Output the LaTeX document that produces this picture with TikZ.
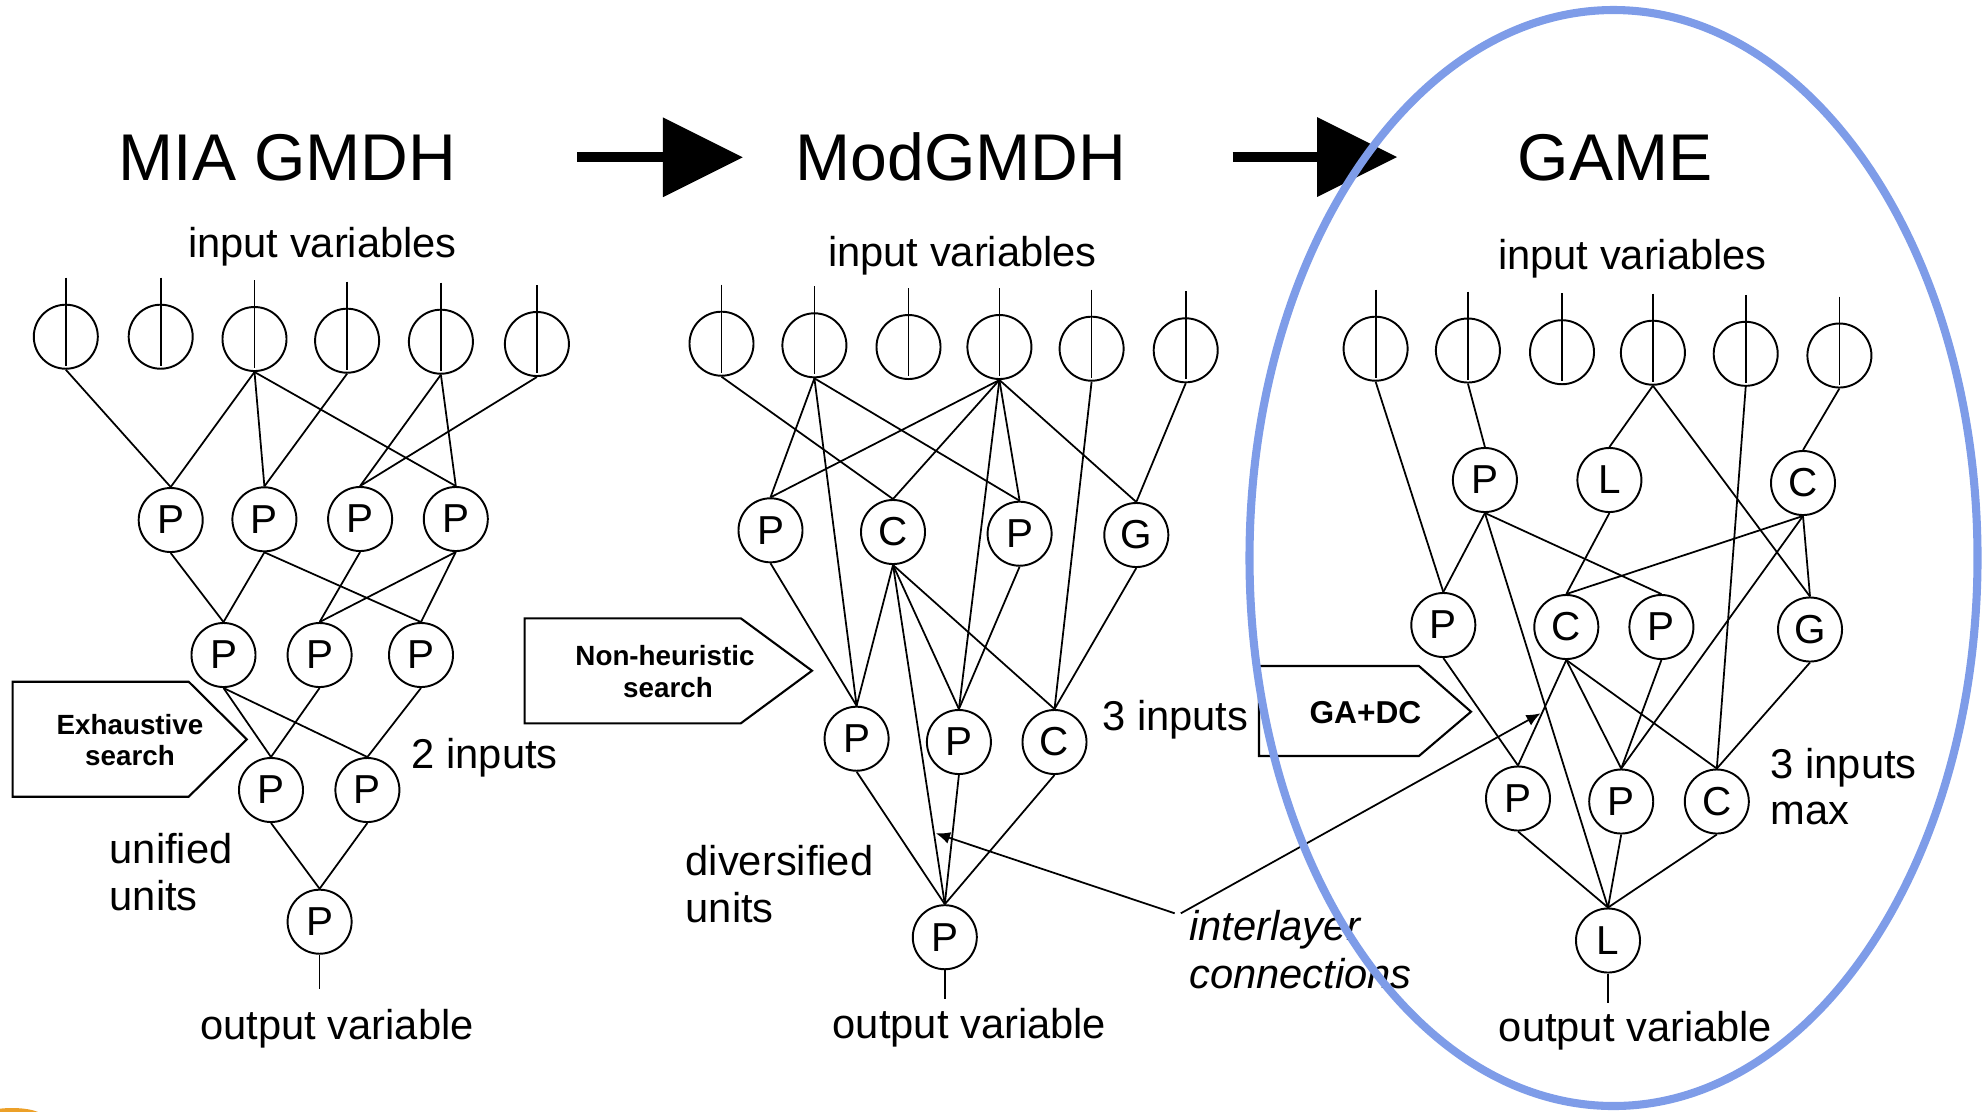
\documentclass[tikz,border=0pt]{standalone}
\usepackage{fontspec}
\setmainfont{Liberation Sans}
\usetikzlibrary{arrows.meta}
\definecolor{hlblue}{RGB}{126,156,232}
\definecolor{blobcol}{RGB}{236,160,40}
\begin{document}
\begin{tikzpicture}[x=0.01cm,y=-0.01cm,
  unit/.style={circle,draw,line width=0.55pt,minimum size=0.64cm,inner sep=0pt,font=\fontsize{11.5}{12}\selectfont},
  inp/.style={circle,draw,line width=0.55pt,minimum size=0.64cm,inner sep=0pt},
  conn/.style={line width=0.5pt},
  lbl/.style={font=\fontsize{11.85}{13}\selectfont,inner sep=0pt,anchor=base west},
  clbl/.style={font=\fontsize{11.85}{13}\selectfont,inner sep=0pt,anchor=base},
  ttl/.style={font=\fontsize{18.8}{20}\selectfont,inner sep=0pt,anchor=base},
  boxtxt/.style={font=\bfseries\fontsize{7.9}{9}\selectfont,inner sep=0pt,anchor=base},
  pent/.style={draw,line width=0.6pt},
  bigarrow/.style={line width=2.85pt,-{Triangle[length=22.7pt,width=22.7pt,line width=0pt]}},
  ilarrow/.style={line width=0.5pt,-{Latex[length=4pt,width=3.4pt]}},
]
\useasboundingbox (0,0) rectangle (1982,1111);

% ---------- titles and big arrows ----------
\node[ttl] (t1) at (287.5,180) {MIA GMDH};
\node[ttl] (t2) at (961,180) {ModGMDH};
\node[ttl] (t3) at (1615,180) {GAME};
\coordinate (ba1s) at (577,157.3);
\coordinate (ba1e) at (742.7,157.3);
\coordinate (ba2s) at (1232.6,157);
\coordinate (ba2e) at (1397,157);
\draw[bigarrow] (ba1s) -- (ba1e);
\draw[bigarrow] (ba2s) -- (ba2e);

\node[clbl] (iv1) at (322.5,257) {input variables};
\node[clbl] (iv2) at (962.5,266) {input variables};
\node[clbl] (iv3) at (1632.5,269) {input variables};

% ---------- left network ----------
\node[inp] (a1) at (65.8,336.7) {};
\node[inp] (a2) at (160.7,336.7) {};
\node[inp] (a3) at (254.5,339) {};
\node[inp] (a4) at (347.1,340.7) {};
\node[inp] (a5) at (440.9,341.7) {};
\node[inp] (a6) at (536.9,344) {};
\node[unit] (ap1) at (170.7,520) {P};
\node[unit] (ap2) at (264.4,519.3) {P};
\node[unit] (ap3) at (360.1,519) {P};
\node[unit] (ap4) at (455.8,519) {P};
\node[unit] (aq1) at (223.5,655) {P};
\node[unit] (aq2) at (319.6,655) {P};
\node[unit] (aq3) at (421,655) {P};
\node[unit] (ar1) at (271,790) {P};
\node[unit] (ar2) at (367.4,790) {P};
\node[unit] (aout) at (319.6,921.7) {P};
\coordinate (aend) at (319.6,989);

\foreach \s/\t in {a1/ap1,a3/ap1,a3/ap2,a4/ap2,a3/ap4,a5/ap3,a5/ap4,a6/ap3,
  ap1/aq1,ap2/aq1,ap2/aq3,ap3/aq2,ap4/aq2,ap4/aq3,
  aq1/ar1,aq1/ar2,aq2/ar1,aq3/ar2,ar1/aout,ar2/aout}
  \draw[conn] (\s.south) -- (\t.north);
\draw[conn] (aout.south) -- (aend);

\node[clbl] (ov1) at (337,1039) {output variable};
\node[lbl] (in2) at (411,768) {2 inputs};
\node[lbl] (uni1) at (109,863) {unified};
\node[lbl] (uni2) at (109,910) {units};

\draw[pent] (12.6,681.7) -- (188.7,681.7) -- (246.8,739.3) -- (188.7,796.7) -- (12.6,796.7) -- cycle;
\node[boxtxt] (ex1) at (130,734) {Exhaustive};
\node[boxtxt] (ex2) at (130,765) {search};

% ---------- middle network ----------
\node[inp] (b1) at (721.5,343.7) {};
\node[inp] (b2) at (814.4,345.3) {};
\node[inp] (b3) at (908.5,347) {};
\node[inp] (b4) at (999.4,347) {};
\node[inp] (b5) at (1091.6,348.7) {};
\node[inp] (b6) at (1185.7,350.3) {};
\node[unit] (bp1) at (770.5,530.3) {P};
\node[unit] (bc) at (893,532) {C};
\node[unit] (bp2) at (1019.6,533.7) {P};
\node[unit] (bg) at (1136.3,535) {G};
\node[unit] (bq1) at (856.6,738.7) {P};
\node[unit] (bq2) at (958.9,742) {P};
\node[unit] (bq3) at (1054.5,742) {C};
\node[unit] (bout) at (944.8,937.2) {P};
\coordinate (bend) at (944.8,999.3);

\foreach \s/\t in {b1/bc,b2/bp1,b2/bq1,b2/bp2,b4/bp1,b4/bc,b4/bq2,b4/bp2,b4/bg,b5/bq3,b6/bg,
  bp1/bq1,bc/bq1,bc/bq2,bc/bq3,bc/bout,bp2/bq2,bg/bq3,
  bq1/bout,bq2/bout,bq3/bout}
  \draw[conn] (\s.south) -- (\t.north);
\draw[conn] (bout.south) -- (bend);

\node[clbl] (ov2) at (969.5,1038.3) {output variable};
\node[lbl] (in3) at (1101.7,730.7) {3 inputs};
\node[lbl] (div1) at (685,875) {diversified};
\node[lbl] (div2) at (685,922.7) {units};

\draw[pent] (524.6,618.3) -- (740.8,618.3) -- (812,670.7) -- (740.8,723.3) -- (524.6,723.3) -- cycle;
\node[boxtxt] (nh1) at (665,665) {Non-heuristic};
\node[boxtxt] (nh2) at (668,697) {search};

% ---------- right network ----------
\node[inp] (c1) at (1375.6,348.7) {};
\node[inp] (c2) at (1467.9,350.5) {};
\node[inp] (c3) at (1562,352.2) {};
\node[inp] (c4) at (1652.9,352.7) {};
\node[inp] (c5) at (1745.7,353.8) {};
\node[inp] (c6) at (1839.4,355.5) {};
\node[unit] (cp) at (1484.9,480) {P};
\node[unit] (cl) at (1609.4,480) {L};
\node[unit] (cc) at (1803,483) {C};
\node[unit] (cq1) at (1443.3,625) {P};
\node[unit] (cq2) at (1566.3,627) {C};
\node[unit] (cq3) at (1661.4,627) {P};
\node[unit] (cq4) at (1810,629.5) {G};
\node[unit] (cr1) at (1518,798.5) {P};
\node[unit] (cr2) at (1621.2,801.5) {P};
\node[unit] (cr3) at (1716.8,801.5) {C};
\node[unit] (cout) at (1608,940.5) {L};
\coordinate (cend) at (1608,1003);

\foreach \s/\t in {c1/cq1,c2/cp,c4/cl,c4/cq4,c5/cr3,c6/cc,
  cp/cq1,cp/cq3,cp/cout,cl/cq2,cc/cq2,cc/cq4,cc/cr2,
  cq1/cr1,cq2/cr1,cq2/cr2,cq2/cr3,cq3/cr2,cq4/cr3,
  cr1/cout,cr2/cout,cr3/cout}
  \draw[conn] (\s.south) -- (\t.north);
\draw[conn] (cout.south) -- (cend);

\node[clbl] (ov3) at (1635.5,1041.7) {output variable};
\node[lbl] (in3m1) at (1770,778.3) {3 inputs};
\node[lbl] (in3m2) at (1770,824) {max};

\draw[pent] (1259,666) -- (1418.9,666) -- (1471,711.7) -- (1418.9,756) -- (1259,756) -- cycle;
\node[boxtxt,font=\bfseries\fontsize{9}{10}\selectfont] (gadc) at (1365.4,723.3) {GA+DC};

% ---------- input stubs ----------
\foreach \n in {a1,a2,a3,a4,a5,a6,b1,b2,b3,b4,b5,b6,c1,c2,c3,c4,c5,c6}
  \draw[conn] (\n.center) ++(0,-59) -- ++(0,88);

% ---------- interlayer connections ----------
\node[lbl,font=\itshape\fontsize{11.85}{13}\selectfont] (il1) at (1188.5,940.7) {interlayer};
\node[lbl,font=\itshape\fontsize{11.85}{13}\selectfont] (il2) at (1188.5,988.3) {connections};
\coordinate (il1s) at (1174.7,913.3);
\coordinate (il1e) at (935.9,833.3);
\coordinate (il2s) at (1180.8,913.3);
\coordinate (il2e) at (1540.5,713.3);
\draw[ilarrow] (il1s) -- (il1e);
\draw[ilarrow] (il2s) -- (il2e);

% ---------- highlight ellipse and corner blob ----------
\begin{scope}
\clip (0,0) rectangle (1982,1111);
\fill[blobcol] (12,1116) ellipse [x radius=30, y radius=8];
\draw[hlblue,line width=2.3pt] (1613.5,558) ellipse [x radius=364, y radius=548];
\end{scope}
\end{tikzpicture}
\end{document}
